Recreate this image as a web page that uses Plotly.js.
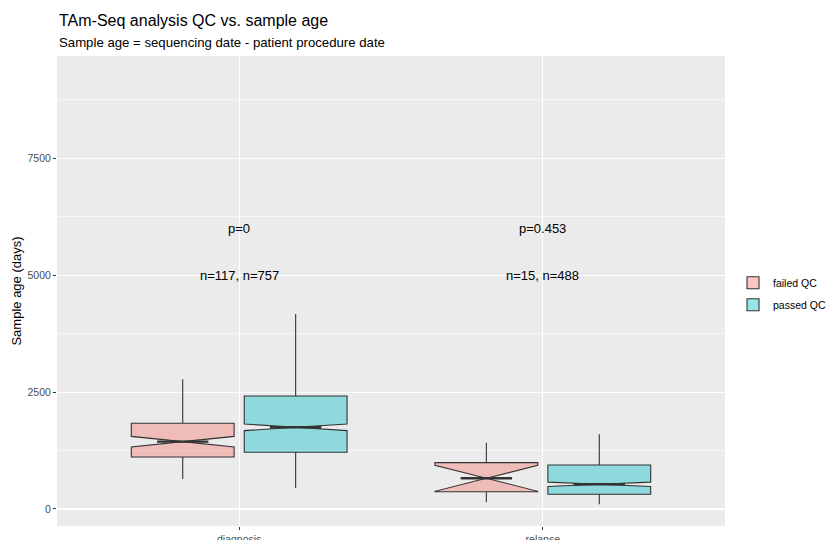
<!DOCTYPE html>
<html>
<head>
<meta charset="utf-8">
<script src="https://cdn.plot.ly/plotly-3.0.1.min.js"></script>
<style>html,body{margin:0;padding:0;background:#fff;}#chart{width:826px;height:540px;}</style>
</head>
<body>
<div id="chart"></div>
<script>
// ---- data ----
const categories = ['diagnosis', 'relapse'];
const seriesNames = ['failed QC', 'passed QC'];

const failedLower  = [641, 143];
const failedQ1     = [1112, 370];
const failedMedian = [1440, 656];
const failedQ3     = [1833, 991];
const failedUpper  = [2775, 1418];
const failedNotch  = [113, 278];

const passedLower  = [450, 100];
const passedQ1     = [1213, 314];
const passedMedian = [1748, 528];
const passedQ3     = [2417, 942];
const passedUpper  = [4171, 1598];
const passedNotch  = [71, 47];

const pLabels = ['p=0', 'p=0.453'];
const nLabels = ['n=117, n=757', 'n=15, n=488'];
const pLabelY = 6000;
const nLabelY = 5000;

const yTicks = [0, 2500, 5000, 7500];

// ---- styling ----
const FONT = 'Liberation Sans, Arial, Helvetica, sans-serif';
const fills = ['rgba(248,118,109,0.4)', 'rgba(0,191,196,0.4)'];
const lineCol = '#333333';

function boxTrace(name, fill, lo, q1, med, q3, up, notch) {
  return {
    type: 'box', name: name, legendgroup: name, x: categories,
    lowerfence: lo, q1: q1, median: med, q3: q3, upperfence: up,
    notchspan: notch, notched: true, notchwidth: 0.5,
    whiskerwidth: 0, boxpoints: false,
    fillcolor: fill, line: {color: lineCol, width: 1.1},
    hoverinfo: 'skip'
  };
}

const traces = [
  boxTrace(seriesNames[0], fills[0], failedLower, failedQ1, failedMedian, failedQ3, failedUpper, failedNotch),
  boxTrace(seriesNames[1], fills[1], passedLower, passedQ1, passedMedian, passedQ3, passedUpper, passedNotch)
];

// thicker median segments (like ggplot's fatten)
const boxgap = 0.256, boxgroupgap = 0.09;
const offset = 0.25 * (1 - boxgap);
const half = offset * (1 - boxgroupgap);
const shapes = [];
[failedMedian, passedMedian].forEach((meds, s) => {
  meds.forEach((m, c) => {
    const ctr = c + (s === 0 ? -offset : offset);
    shapes.push({type: 'line', xref: 'x', yref: 'y',
      x0: ctr - half * 0.5, x1: ctr + half * 0.5, y0: m, y1: m,
      line: {color: lineCol, width: 2.4}});
  });
});

const annotations = [];
categories.forEach((c, i) => {
  annotations.push({x: c, y: pLabelY, xref: 'x', yref: 'y', text: pLabels[i], showarrow: false,
    font: {family: FONT, size: 13, color: '#000'}, xanchor: 'center', yanchor: 'middle'});
  annotations.push({x: c, y: nLabelY, xref: 'x', yref: 'y', text: nLabels[i], showarrow: false,
    font: {family: FONT, size: 13, color: '#000'}, xanchor: 'center', yanchor: 'middle'});
});
annotations.push({xref: 'paper', yref: 'paper', x: 0, y: (526 - 21) / 470, xanchor: 'left', yanchor: 'middle',
  text: 'TAm-Seq analysis QC vs. sample age', showarrow: false, font: {family: FONT, size: 16, color: '#000'}});
annotations.push({xref: 'paper', yref: 'paper', x: 0, y: (526 - 43) / 470, xanchor: 'left', yanchor: 'middle',
  text: 'Sample age = sequencing date - patient procedure date', showarrow: false, font: {family: FONT, size: 13.2, color: '#000'}});

const layout = {
  width: 826, height: 540,
  margin: {l: 57, r: 101, t: 56, b: 14, autoexpand: false},
  paper_bgcolor: '#ffffff', plot_bgcolor: '#EBEBEB',
  font: {family: FONT, color: '#4D4D4D'},
  boxmode: 'group', boxgap: boxgap, boxgroupgap: boxgroupgap,
  showlegend: true,
  legend: {x: 1.012, xanchor: 'left', y: 0.494, yanchor: 'middle', bgcolor: 'rgba(0,0,0,0)',
    font: {family: FONT, size: 10.5, color: '#000'}, tracegroupgap: 3, traceorder: 'grouped', itemwidth: 30},
  xaxis: {type: 'category', range: [-0.6, 1.6], showgrid: true, gridcolor: '#ffffff', gridwidth: 1.1,
    zeroline: false, showline: false, ticks: 'outside', ticklen: 3, tickcolor: lineCol, tickwidth: 1,
    tickfont: {family: FONT, size: 10.5, color: '#4D4D4D'}, fixedrange: true},
  yaxis: {range: [-364, 9690], tickvals: yTicks, ticktext: yTicks.map(String),
    showgrid: true, gridcolor: '#ffffff', gridwidth: 1.1, zeroline: false, showline: false,
    ticks: 'outside', ticklen: 3, tickcolor: lineCol, tickwidth: 1,
    minor: {tickvals: [1250, 3750, 6250, 8750], showgrid: true, gridcolor: '#ffffff', gridwidth: 0.55, ticks: ''},
    tickfont: {family: FONT, size: 10.5, color: '#4D4D4D'},
    title: {text: 'Sample age (days)', font: {family: FONT, size: 13, color: '#000'}, standoff: 2}},
  shapes: shapes,
  annotations: annotations
};

Plotly.newPlot('chart', traces, layout, {displayModeBar: false, staticPlot: true});
</script>
</body>
</html>
